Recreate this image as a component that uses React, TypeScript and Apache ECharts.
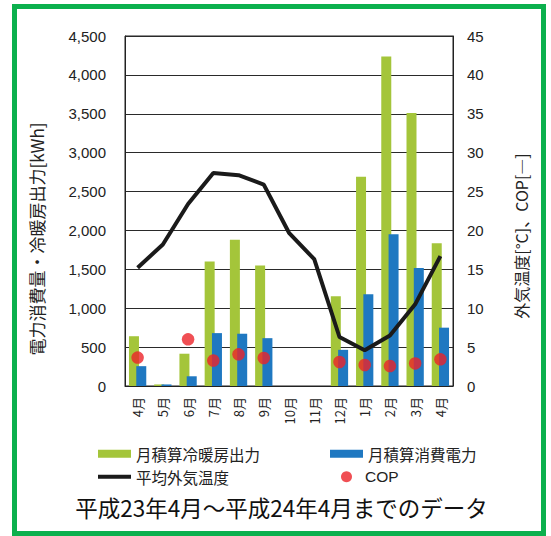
import React, { useEffect, useRef } from "react";
import * as echarts from "echarts";

const months = ["4月", "5月", "6月", "7月", "8月", "9月", "10月", "11月", "12月", "1月", "2月", "3月", "4月"];
const heatOutput = [640, 20, 415, 1600, 1880, 1550, 0, 0, 1155, 2690, 4235, 3510, 1835];
const powerUse = [255, 20, 125, 680, 672, 615, 0, 0, 465, 1180, 1950, 1518, 750];
const avgTemp = [15.2, 18.2, 23.4, 27.4, 27.1, 25.9, 19.7, 16.3, 6.3, 4.6, 6.5, 10.5, 16.7];
const cop: (number | string)[] = [3.65, "-", 6.0, 3.27, 4.07, 3.6, "-", "-", 3.09, 2.7, 2.57, 2.9, 3.43];
const leftTicks = { min: 0, max: 4500, interval: 500 };
const rightTicks = { min: 0, max: 45, interval: 5 };

const NUM_FONT = "'Liberation Sans', Arial, 'Noto Sans CJK JP', sans-serif";
const JP_FONT = "'Noto Sans CJK JP', 'Noto Sans', sans-serif";

export default function App() {
  const ref = useRef<HTMLDivElement>(null);
  useEffect(() => {
    if (!ref.current) return;
    const chart = echarts.init(ref.current, undefined, { renderer: "svg" });
    const legendText = { fontFamily: JP_FONT, fontSize: 15.5, color: "#222" };
    chart.setOption({
      animation: false,
      backgroundColor: "#fff",
      grid: {
        left: 125,
        right: 98,
        top: 36,
        bottom: 150,
        show: true,
        borderColor: "#222",
        borderWidth: 1,
        backgroundColor: "transparent",
      },
      legend: [
        { data: ["月積算冷暖房出力"], left: 98, top: 446, icon: "rect", itemWidth: 33, itemHeight: 8, textStyle: legendText, padding: 0 },
        { data: ["月積算消費電力"], left: 330, top: 446, icon: "rect", itemWidth: 33, itemHeight: 8, textStyle: legendText, padding: 0 },
        { data: ["平均外気温度"], left: 98, top: 469, icon: "rect", itemWidth: 33, itemHeight: 4, textStyle: legendText, padding: 0 },
        { data: ["COP"], left: 341, top: 469, icon: "circle", itemWidth: 11, itemHeight: 11, textStyle: { ...legendText, fontFamily: NUM_FONT, padding: [0, 0, 0, 8] }, padding: 0 },
      ],
      xAxis: {
        type: "category",
        data: months,
        boundaryGap: true,
        axisLine: { lineStyle: { color: "#222", width: 1 } },
        axisTick: { inside: true, length: 5, lineStyle: { color: "#222" } },
        axisLabel: { rotate: 90, fontSize: 13, color: "#222", fontFamily: JP_FONT, margin: 11, interval: 0 },
      },
      yAxis: [
        {
          type: "value",
          ...leftTicks,
          axisLine: { show: true, lineStyle: { color: "#222" } },
          axisTick: { show: false },
          splitLine: { lineStyle: { color: "#2a2a2a", width: 1 } },
          axisLabel: {
            fontSize: 15,
            color: "#222",
            fontFamily: NUM_FONT,
            margin: 19,
            formatter: (v: number) => v.toLocaleString("en-US"),
          },
        },
        {
          type: "value",
          ...rightTicks,
          position: "right",
          axisLine: { show: true, lineStyle: { color: "#222" } },
          axisTick: { show: false },
          splitLine: { show: false },
          axisLabel: { fontSize: 15, color: "#222", fontFamily: NUM_FONT, margin: 14 },
        },
      ],
      series: [
        {
          name: "月積算冷暖房出力",
          type: "bar",
          data: heatOutput,
          barWidth: 10,
          barGap: "-27%",
          itemStyle: { color: "#a4c53a" },
        },
        {
          name: "月積算消費電力",
          type: "bar",
          data: powerUse,
          barWidth: 10,
          barGap: "-27%",
          itemStyle: { color: "#1f78c1" },
        },
        {
          name: "平均外気温度",
          type: "line",
          yAxisIndex: 1,
          data: avgTemp,
          symbol: "none",
          lineStyle: { color: "#1a1a1a", width: 4 },
          itemStyle: { color: "#1a1a1a" },
          z: 3,
        },
        {
          name: "COP",
          type: "scatter",
          yAxisIndex: 1,
          data: cop,
          symbol: "circle",
          symbolSize: 12.5,
          itemStyle: { color: "#ec2329" },
          z: 4,
        },
      ],
      graphic: [
        {
          type: "rect",
          shape: { x: 14.5, y: 6.5, width: 529, height: 527 },
          style: { fill: "none", stroke: "#0bb04d", lineWidth: 5 },
          z: 10,
        },
        {
          type: "text",
          x: 36.5,
          y: 239,
          rotation: Math.PI / 2,
          style: {
            text: "電力消費量・冷暖房出力[kWh]",
            fontSize: 17,
            fontFamily: JP_FONT,
            fill: "#222",
            align: "center",
            verticalAlign: "middle",
          },
        },
        {
          type: "text",
          x: 521,
          y: 236,
          rotation: Math.PI / 2,
          style: {
            text: "外気温度[°C]、COP[―]",
            fontSize: 16,
            fontFamily: JP_FONT,
            fill: "#222",
            align: "center",
            verticalAlign: "middle",
          },
        },
        {
          type: "text",
          x: 281.5,
          y: 507,
          style: {
            text: "平成23年4月～平成24年4月までのデータ",
            fontSize: 22.5,
            fontFamily: JP_FONT,
            fill: "#111",
            align: "center",
            verticalAlign: "middle",
          },
        },
      ],
    });
    return () => chart.dispose();
  }, []);
  return (
    <div
      ref={ref}
      style={{ position: "fixed", left: 0, top: 0, width: 551, height: 536 }}
    />
  );
}
